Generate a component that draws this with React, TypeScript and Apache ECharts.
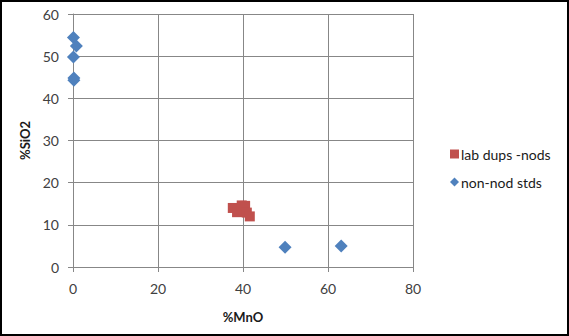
import React, { useEffect, useRef } from "react";
import * as echarts from "echarts";

const seriesNames = ["lab dups -nods", "non-nod stds"];
const labDups: number[][] = [
  [37.6, 14.0],
  [38.6, 13.0],
  [39.7, 14.6],
  [40.5, 14.5],
  [40.9, 12.9],
  [41.6, 12.0],
];
const nonNodStds: number[][] = [
  [0.1, 54.4],
  [0.8, 52.4],
  [0.1, 49.8],
  [0.2, 44.8],
  [0.2, 44.3],
  [49.9, 4.7],
  [63.1, 5.0],
];
const xAxisName = "%MnO";
const yAxisName = "%SiO2";

const FONT = "Lato, 'Open Sans', sans-serif";

export default function App() {
  const ref = useRef<HTMLDivElement>(null);
  useEffect(() => {
    if (!ref.current) return;
    const chart = echarts.init(ref.current, undefined, { renderer: "svg" });
    const axisCommon = {
      axisLine: { show: true, lineStyle: { color: "#878787", width: 1 } },
      axisTick: { show: true, inside: false, length: 5, lineStyle: { color: "#878787" } },
      splitLine: { show: true, lineStyle: { color: "#878787", width: 1 } },
      axisLabel: { color: "#404040", fontSize: 14, fontFamily: FONT },
      nameTextStyle: { color: "#1a1a1a", fontSize: 13, fontWeight: "bold", fontFamily: FONT },
    };
    chart.setOption({
      animation: false,
      backgroundColor: "transparent",
      textStyle: { fontFamily: FONT },
      grid: { left: 73, top: 14, width: 340, height: 253, containLabel: false },
      xAxis: {
        type: "value",
        min: 0,
        max: 80,
        interval: 20,
        name: xAxisName,
        nameLocation: "middle",
        nameGap: 43,
        ...axisCommon,
        axisLabel: { ...axisCommon.axisLabel, margin: 14 },
      },
      yAxis: {
        type: "value",
        min: 0,
        max: 60,
        interval: 10,
        name: yAxisName,
        nameLocation: "middle",
        nameGap: 38,
        ...axisCommon,
        axisLabel: { ...axisCommon.axisLabel, margin: 14 },
      },
      legend: {
        orient: "vertical",
        left: 445,
        top: 142,
        itemWidth: 9,
        itemHeight: 9,
        itemGap: 14,
        textStyle: { color: "#1a1a1a", fontSize: 14, fontFamily: FONT, padding: [0, 0, 0, -3] },
        data: [
          { name: seriesNames[0], icon: "rect" },
          { name: seriesNames[1], icon: "diamond" },
        ],
      },
      series: [
        {
          name: seriesNames[0],
          type: "scatter",
          symbol: "rect",
          symbolSize: 10,
          itemStyle: { color: "#C0504D", opacity: 1 },
          data: labDups,
          z: 3,
        },
        {
          name: seriesNames[1],
          type: "scatter",
          symbol: "diamond",
          symbolSize: 13,
          itemStyle: { color: "#4F81BD", opacity: 1 },
          data: nonNodStds,
          z: 2,
        },
      ],
    });
    return () => chart.dispose();
  }, []);
  return (
    <div style={{ position: "fixed", left: 0, top: 0, width: 569, height: 336, background: "#fff" }}>
      <div ref={ref} style={{ position: "absolute", left: 0, top: 0, width: 569, height: 336 }} />
      <div
        style={{
          position: "absolute",
          left: 0,
          top: 0,
          width: 569,
          height: 336,
          boxSizing: "border-box",
          border: "2px solid #000",
          pointerEvents: "none",
        }}
      />
    </div>
  );
}
